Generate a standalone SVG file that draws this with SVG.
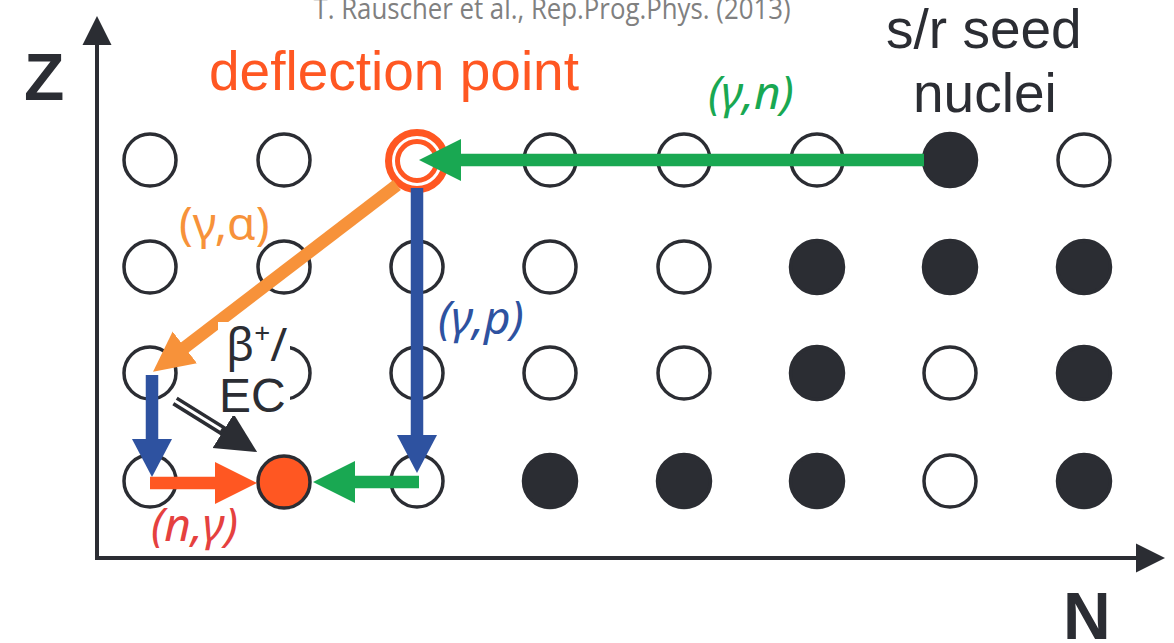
<svg xmlns="http://www.w3.org/2000/svg" width="1174" height="643" viewBox="0 0 1174 643">
<style>
.o{fill:#fff;stroke:#2b2d33;stroke-width:3.5}
.f{fill:#2b2d33;stroke:#2b2d33;stroke-width:3.5}
.ax{stroke:#2b2d33;stroke-width:4;fill:none}
.ln{fill:none;stroke-width:12.5}
.sans{font-family:"Liberation Sans",Arial,sans-serif}
.lab{font-family:"Noto Sans","Open Sans",sans-serif;font-size:46px}
.it{font-style:italic}
.dark{fill:#2b2d33}
</style>
<defs>
<marker id="mg" viewBox="0 -21 42 42" markerUnits="userSpaceOnUse" markerWidth="42" markerHeight="42" refX="1" refY="0" orient="auto"><path d="M0,-21 L42,0 L0,21 Z" fill="#19a852"/></marker>
<marker id="mb" viewBox="0 -21 42 42" markerUnits="userSpaceOnUse" markerWidth="42" markerHeight="42" refX="1" refY="0" orient="auto"><path d="M0,-20 L38,0 L0,20 Z" fill="#2e52a0"/></marker>
<marker id="mo" viewBox="0 -21 42 42" markerUnits="userSpaceOnUse" markerWidth="42" markerHeight="42" refX="1" refY="0" orient="auto"><path d="M0,-20 L40,0 L0,20 Z" fill="#f7923a"/></marker>
<marker id="mr" viewBox="0 -21 42 42" markerUnits="userSpaceOnUse" markerWidth="42" markerHeight="42" refX="1" refY="0" orient="auto"><path d="M0,-21 L42,0 L0,21 Z" fill="#ff5722"/></marker>
<marker id="mk" viewBox="0 -21 42 42" markerUnits="userSpaceOnUse" markerWidth="42" markerHeight="42" refX="1" refY="0" orient="auto"><path d="M0,-20 L40,0 L0,20 Z" fill="#2b2d33"/></marker>
<marker id="max" viewBox="0 -15 30 30" markerUnits="userSpaceOnUse" markerWidth="30" markerHeight="30" refX="1" refY="0" orient="auto"><path d="M0,-14.5 L29,0 L0,14.5 Z" fill="#2b2d33"/></marker>
</defs>
<rect width="1174" height="643" fill="#fff"/>
<text x="552" y="19" text-anchor="middle" font-family="'Open Sans',sans-serif" font-size="30" fill="#808080" textLength="477" lengthAdjust="spacingAndGlyphs">T. Rauscher et al., Rep.Prog.Phys. (2013)</text>

<g id="axes">
<line class="ax" x1="97" y1="559" x2="97" y2="44" marker-end="url(#max)"/>
<line class="ax" x1="95" y1="558" x2="1137" y2="558" marker-end="url(#max)"/>
<text class="sans dark" x="24" y="100" font-size="66" font-weight="bold">Z</text>
<text class="sans dark" x="1063" y="639" font-size="66" font-weight="bold">N</text>
</g>

<g id="nuclei">
<g id="row1">
<circle class="o" cx="150" cy="160" r="26"/>
<circle class="o" cx="284" cy="160" r="26"/>
<circle class="o" cx="550" cy="160" r="26"/>
<circle class="o" cx="684" cy="160" r="26"/>
<circle class="o" cx="817" cy="160" r="26"/>
<circle class="f" cx="950" cy="160" r="26.5"/>
<circle class="o" cx="1084" cy="160" r="26"/>
</g>
<g id="row2">
<circle class="o" cx="150" cy="267" r="26"/>
<circle class="o" cx="284" cy="267" r="26"/>
<circle class="o" cx="417" cy="267" r="26"/>
<circle class="o" cx="550" cy="267" r="26"/>
<circle class="o" cx="684" cy="267" r="26"/>
<circle class="f" cx="817" cy="267" r="26.5"/>
<circle class="f" cx="950" cy="267" r="26.5"/>
<circle class="f" cx="1084" cy="267" r="26.5"/>
</g>
<g id="row3">
<circle class="o" cx="150" cy="373" r="26"/>
<circle class="o" cx="284" cy="373" r="26"/>
<circle class="o" cx="417" cy="373" r="26"/>
<circle class="o" cx="550" cy="373" r="26"/>
<circle class="o" cx="684" cy="373" r="26"/>
<circle class="f" cx="817" cy="373" r="26.5"/>
<circle class="o" cx="950" cy="373" r="26"/>
<circle class="f" cx="1084" cy="373" r="26.5"/>
</g>
<g id="row4">
<circle class="o" cx="150" cy="481" r="26"/>
<circle class="o" cx="417" cy="481" r="26"/>
<circle class="f" cx="550" cy="481" r="26.5"/>
<circle class="f" cx="684" cy="481" r="26.5"/>
<circle class="f" cx="817" cy="481" r="26.5"/>
<circle class="o" cx="950" cy="481" r="26"/>
<circle class="f" cx="1084" cy="481" r="26.5"/>
</g>
</g>

<g id="deflection-point">
<circle cx="417" cy="161" r="28.5" fill="#fff" stroke="#ff5722" stroke-width="7"/>
<circle cx="417" cy="161" r="19.5" fill="#fff" stroke="#ff5722" stroke-width="5"/>
<text class="sans" x="209" y="90" font-size="55" fill="#ff5722">deflection point</text>
</g>

<g id="endpoint">
<circle cx="284" cy="482" r="26" fill="#ff5722" stroke="#2b2d33" stroke-width="3.5"/>
</g>

<g id="seed-label">
<text class="sans dark" x="886" y="48" font-size="55">s/r seed</text>
<text class="sans dark" x="913" y="112" font-size="55">nuclei</text>
</g>

<g id="connectors">
<line class="ln" stroke="#19a852" x1="924" y1="160" x2="460" y2="160" marker-end="url(#mg)"/>
<line class="ln" stroke="#2e52a0" x1="417" y1="188" x2="417" y2="436" marker-end="url(#mb)"/>
<line class="ln" stroke="#f7923a" x1="397" y1="185" x2="184" y2="348" marker-end="url(#mo)"/>
<line class="ln" stroke="#2e52a0" x1="152" y1="375" x2="152" y2="440" marker-end="url(#mb)"/>
<line class="ln" stroke="#ff5722" x1="150" y1="483" x2="216" y2="483" marker-end="url(#mr)"/>
<line class="ln" stroke="#19a852" x1="419" y1="482" x2="354" y2="482" marker-end="url(#mg)"/>
<line stroke="#2b2d33" stroke-width="10" x1="175" y1="401" x2="224" y2="431.5" marker-end="url(#mk)"/>
<line stroke="#fff" stroke-width="3" x1="172" y1="399" x2="221" y2="429.5"/>
</g>

<g id="labels">
<text class="lab it" x="708" y="109" fill="#19a852" font-size="48">(γ,n)</text>
<text class="lab" x="179" y="240" fill="#f7923a">(γ,α)</text>
<text class="lab it" x="438" y="334" fill="#2e52a0">(γ,p)</text>
<text class="lab it" x="151" y="541" fill="#e5413f">(n,γ)</text>
<rect x="218" y="322" width="72" height="94" fill="#fff"/>
<text class="lab dark" x="226" y="361" font-size="46">β<tspan font-size="28" dy="-18">+</tspan><tspan dy="18">/</tspan></text>
<text class="sans dark" x="219" y="412" font-size="48">EC</text>
</g>
</svg>
